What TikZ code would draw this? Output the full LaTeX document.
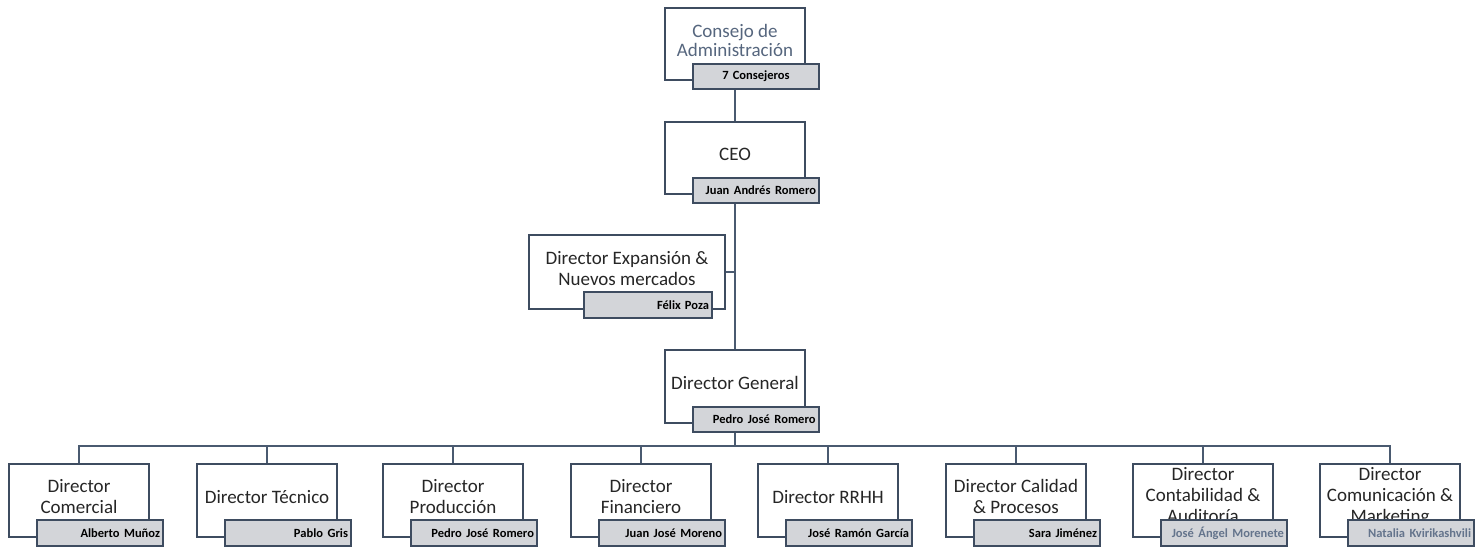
\documentclass[tikz,border=0pt]{standalone}
\usepackage{fontspec}
\setmainfont{Carlito}
\usetikzlibrary{backgrounds}
\definecolor{edge}{HTML}{3E4C60}
\definecolor{wire}{HTML}{4A5A70}
\definecolor{namefill}{HTML}{D3D5D9}
\definecolor{maintext}{HTML}{262626}
\definecolor{bluetext}{HTML}{56667E}
\definecolor{paletext}{HTML}{64748C}
\tikzset{
  mainbox/.style={draw=edge, line width=2pt, fill=white, anchor=north west, align=center,
    font=\fontsize{19}{21}\selectfont, text=maintext, inner sep=0pt},
  namebox/.style={draw=edge, line width=2pt, fill=namefill, anchor=north west,
    minimum width=126pt, minimum height=25pt, inner xsep=3pt, inner ysep=0pt,
    font=\bfseries\fontsize{12.5}{13}\selectfont, text=black},
  childbox/.style={mainbox, minimum width=140pt, minimum height=73pt},
  childname/.style={namebox, minimum height=26pt, text width=120pt, align=right},
  wireline/.style={draw=wire, line width=2.4pt},
}
\newcommand{\wsp}{\hspace{4.5pt}}
\begin{document}
\begin{tikzpicture}[x=1pt,y=-1pt]
\useasboundingbox (0,0) rectangle (1479,546);
% top chain
\node[mainbox, minimum width=140pt, minimum height=72pt, text=bluetext, font=\fontsize{19}{19}\selectfont] (cons) at (664,7) {Consejo de\\Administración\\[-12pt]};
\node[namebox, text width=120pt, align=center] (consn) at (692,63) {7 Consejeros};
\node[mainbox, minimum width=140pt, minimum height=72pt] (ceo) at (664,121) {CEO\\[-13pt]};
\node[namebox, text width=120pt, align=right] (ceon) at (692,177) {Juan\wsp Andrés\wsp Romero};
\node[mainbox, minimum width=196pt, minimum height=74pt] (exp) at (528,234) {Director Expansión \&\\Nuevos mercados\\[-13pt]};
\node[namebox, minimum width=128pt, minimum height=26pt, text width=122pt, align=right] (expn) at (583,291) {Félix Poza};
\node[mainbox, minimum width=140pt, minimum height=73pt] (dg) at (664,349) {Director General\\[-13pt]};
\node[namebox, text width=119pt, align=right] (dgn) at (692,406) {Pedro\wsp José\wsp Romero};
% children
\node[childbox] (c1) at (8,463) {Director\\Comercial\\[-13pt]};
\node[childname] (c1n) at (36,519) {Alberto\wsp Muñoz};
\node[childbox] (c2) at (196,463) {Director Técnico\\[-13pt]};
\node[childname] (c2n) at (224,519) {Pablo\wsp Gris};
\node[childbox] (c3) at (382,463) {Director\\Producción\\[-13pt]};
\node[childname] (c3n) at (410,519) {Pedro\wsp José\wsp Romero};
\node[childbox] (c4) at (570,463) {Director\\Financiero\\[-13pt]};
\node[childname] (c4n) at (598,519) {Juan\wsp José\wsp Moreno};
\node[childbox] (c5) at (757,463) {Director RRHH\\[-13pt]};
\node[childname] (c5n) at (785,519) {José\wsp Ramón\wsp García};
\node[childbox] (c6) at (945,463) {Director Calidad\\\& Procesos\\[-13pt]};
\node[childname] (c6n) at (973,519) {Sara Jiménez};
\node[childbox] (c7) at (1132,463) {Director\\Contabilidad \&\\Auditoría\\[-10pt]};
\node[childname, text=paletext] (c7n) at (1160,519) {José\wsp Ángel\wsp Morenete};
\node[childbox] (c8) at (1319,463) {Director\\Comunicación \&\\Marketing\\[-10pt]};
\node[childname, text=paletext] (c8n) at (1347,519) {Natalia\wsp Kvirikashvili};
\coordinate (bus) at (0,446);
\begin{scope}[on background layer]
\draw[wireline] (cons.south) -- (ceo.north);
\draw[wireline] (ceo.south) -- (dg.north);
\draw[wireline] (exp.east) -- (exp.east -| ceo.south);
\foreach \c in {c1,c2,c3,c4,c5,c6,c7,c8}
  \draw[wireline] (dg.south) -- (dg.south |- bus) -| (\c.north);
\end{scope}
\end{tikzpicture}
\end{document}
